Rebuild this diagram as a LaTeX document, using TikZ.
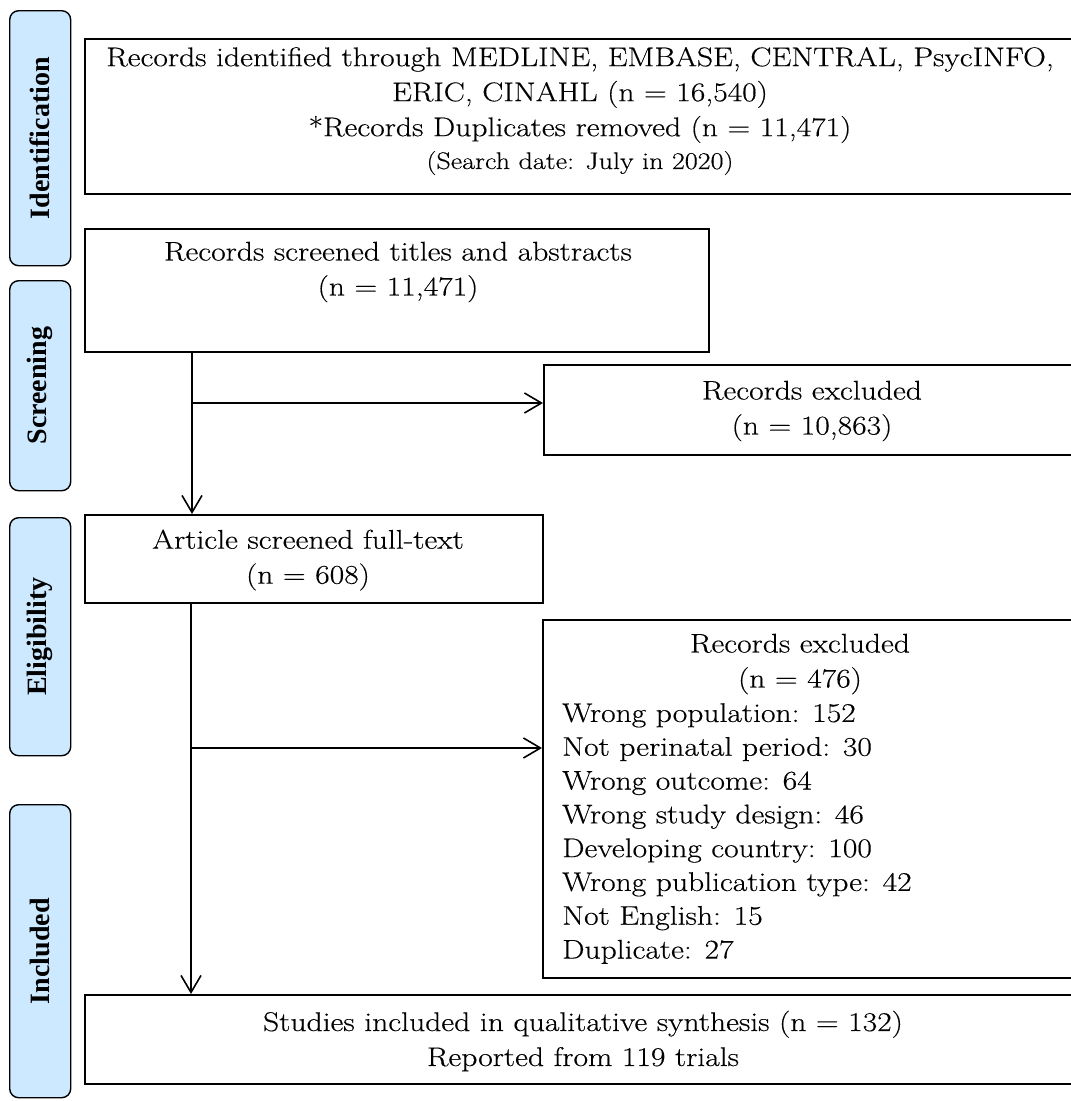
\documentclass[tikz,border=0pt]{standalone}
\usepackage{fontspec}
\setmainfont{Latin Modern Roman}[FakeStretch=1.17, FakeBold=0.35]
\newfontfamily\sidefont{Liberation Serif}
\usetikzlibrary{arrows.meta}
\definecolor{sideblue}{RGB}{204,233,255}
\begin{document}
\begin{tikzpicture}[x=1pt,y=-1pt,
  box/.style={draw, line width=1.6pt, rectangle, inner sep=0pt, anchor=north west},
  side/.style={draw, line width=1.4pt, fill=sideblue, rounded corners=9pt, anchor=north west, inner sep=0pt, minimum width=61pt},
  sidetxt/.style={rotate=90, font=\sidefont\bfseries\fontsize{28}{30}\selectfont, inner sep=0pt},
  txt/.style={align=center, font=\fontsize{27}{35}\selectfont, inner sep=0pt},
  lst/.style={align=left, font=\fontsize{27}{33.8}\selectfont, inner sep=0pt, anchor=west},
  arr/.style={line width=1.6pt, -{Straight Barb[length=17pt,width=20pt]}},
  ln/.style={line width=1.6pt}]
\useasboundingbox (0,0) rectangle (1071,1101);
\clip (0,0) rectangle (1071,1101);

% side bars
\node[side, minimum height=255pt] (sid) at (9,10) {};
\node[sidetxt] (sidt) at (sid.center) {Identification};
\node[side, minimum height=210pt] (sscr) at (9,280) {};
\node[sidetxt] (sscrt) at (sscr.center) {Screening};
\node[side, minimum height=238pt] (selg) at (9,517) {};
\node[sidetxt] (selgt) at (selg.center) {Eligibility};
\node[side, minimum height=293pt] (sinc) at (9,804) {};
\node[sidetxt] (sinct) at (sinc.center) {Included};

% boxes
\node[box, minimum width=1000pt, minimum height=155pt] (b1) at (84,38) {};
\node[box, minimum width=624pt, minimum height=123pt] (b2) at (84,228) {};
\node[box, minimum width=540pt, minimum height=90pt] (b3) at (543,364) {};
\node[box, minimum width=458pt, minimum height=88pt] (b4) at (84,514) {};
\node[box, minimum width=540pt, minimum height=358pt] (b5) at (542,619) {};
\node[box, minimum width=1000pt, minimum height=89pt] (b6) at (84,994) {};

% texts
\node[txt] (t1) at (580,95) {Records identified through MEDLINE, EMBASE, CENTRAL, PsycINFO,\\ ERIC, CINAHL (n = 16,540)\\ *Records Duplicates removed (n = 11,471)};
\node[inner sep=0pt, font=\fontsize{24}{28}\selectfont] (t1b) at (580,163) {(Search date: July in 2020)};
\node[txt] (t2) at (398,272) {Records screened titles and abstracts\\ (n = 11,471)};
\node[txt] (t3) at (812,411) {Records excluded\\ (n = 10,863)};
\node[txt] (t4) at (308,560) {Article screened full-text\\ (n = 608)};
\node[txt] (t5) at (800,664) {Records excluded\\ (n = 476)};
\node[lst] (t5l) at (562,833.5) {Wrong population: 152\\ Not perinatal period: 30\\ Wrong outcome: 64\\ Wrong study design: 46\\ Developing country: 100\\ Wrong publication type: 42\\ Not English: 15\\ Duplicate: 27};
\node[txt] (t6) at (583,1041) {Studies included in qualitative synthesis (n = 132)\\ Reported from 119 trials};

% connectors
\coordinate (j1) at (192,403);
\coordinate (j2) at (191,748);
\draw[arr] (j1 |- b2.south) -- (j1 |- b4.north);
\draw[arr] (j1) -- (j1 -| b3.west);
\draw[arr] (j2 |- b4.south) -- (j2 |- b6.north);
\draw[arr] (j2) -- (j2 -| b5.west);
\end{tikzpicture}
\end{document}
